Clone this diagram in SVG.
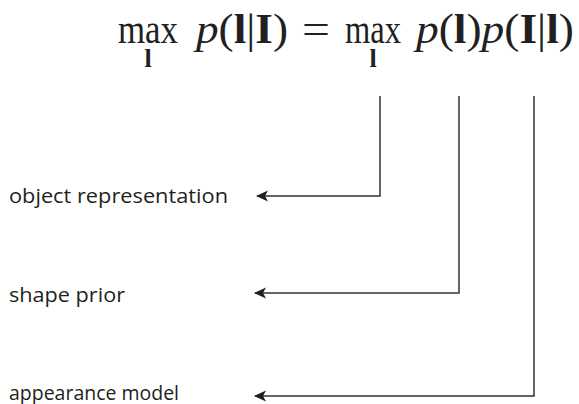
<svg xmlns="http://www.w3.org/2000/svg" width="579" height="404" viewBox="0 0 579 404">
<defs>
<marker id="ah" markerUnits="userSpaceOnUse" markerWidth="14" markerHeight="12" viewBox="0 0 14 12" refX="12" refY="6" orient="auto">
<path d="M13,6 L1,0.5 L4,6 L1,11.5 Z" fill="#231f20"/>
</marker>
</defs>
<style>
.lbl{font-family:"Open Sans","Noto Sans",sans-serif;font-size:20.5px;fill:#231f20}
.eq{font-family:"Liberation Serif","DejaVu Serif",serif;font-size:42px;fill:#231f20}
.sub{font-family:"Liberation Serif","DejaVu Serif",serif;font-size:26px;font-weight:bold;fill:#231f20}
.b{font-weight:bold}
.i{font-style:italic}
.c{fill:none;stroke:#333;stroke-width:1.5}
</style>
<g id="equation">
<text class="eq" x="118" y="43" textLength="60" lengthAdjust="spacingAndGlyphs">max</text>
<text class="sub" x="148" y="67" text-anchor="middle">l</text>
<text class="eq" x="196" y="43" textLength="92" lengthAdjust="spacingAndGlyphs"><tspan class="i">p</tspan>(<tspan class="b">l</tspan>|<tspan class="b">I</tspan>)</text>
<text class="eq" x="302" y="43" textLength="28" lengthAdjust="spacingAndGlyphs">=</text>
<text class="eq" x="345" y="43" textLength="56" lengthAdjust="spacingAndGlyphs">max</text>
<text class="sub" x="373" y="67" text-anchor="middle">l</text>
<text class="eq" x="416" y="43" textLength="158" lengthAdjust="spacingAndGlyphs"><tspan class="i">p</tspan>(<tspan class="b">l</tspan>)<tspan class="i">p</tspan>(<tspan class="b">I</tspan>|<tspan class="b">l</tspan>)</text>
</g>
<g id="object-representation">
<text class="lbl" x="9" y="203" textLength="219" lengthAdjust="spacingAndGlyphs">object representation</text>
</g>
<g id="shape-prior">
<text class="lbl" x="9" y="302" textLength="116" lengthAdjust="spacingAndGlyphs">shape prior</text>
</g>
<g id="appearance-model">
<text class="lbl" x="9" y="400" textLength="170" lengthAdjust="spacingAndGlyphs">appearance model</text>
</g>
<g id="connectors">
<path class="c" d="M380,96 V196 H257" marker-end="url(#ah)"/>
<path class="c" d="M459,96 V293 H255" marker-end="url(#ah)"/>
<path class="c" d="M534,96 V396 H255" marker-end="url(#ah)"/>
</g>
</svg>
